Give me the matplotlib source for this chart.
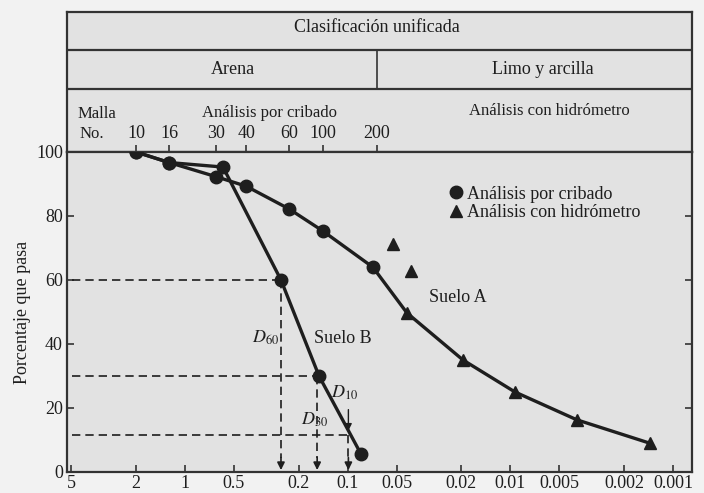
import matplotlib
matplotlib.use('Agg')
import matplotlib.pyplot as plt
from matplotlib.lines import Line2D

plt.rcParams['font.family'] = ['Liberation Serif', 'DejaVu Serif']
plt.rcParams['mathtext.fontset'] = 'stix'

# ---------------- data ----------------
sieve_numbers = ['10', '16', '30', '40', '60', '100', '200']
sieve_sizes = [2.0, 1.25, 0.645, 0.42, 0.229, 0.142, 0.066]

soilA_sieve_d = [2.0, 1.25, 0.645, 0.42, 0.229, 0.142, 0.070]
soilA_sieve_p = [100, 96.7, 92.3, 89.3, 82.2, 75.3, 64.0]
soilA_hydro_d = [0.0432, 0.01955, 0.00937, 0.0039, 0.00139]
soilA_hydro_p = [49.7, 35.0, 25.0, 16.3, 9.0]
extra_hydro_d = [0.0526, 0.0408]
extra_hydro_p = [71.3, 62.8]

soilB_d = [2.0, 1.25, 0.584, 0.257, 0.150, 0.0828]
soilB_p = [100, 96.7, 95.3, 60.0, 30.0, 5.6]

D_values = [0.257, 0.154, 0.099]
D_percent = [60, 30, 11.6]

xticks = [5, 2, 1, 0.5, 0.2, 0.1, 0.05, 0.02, 0.01, 0.005, 0.002, 0.001]
xticklabels = ['5', '2', '1', '0.5', '0.2', '0.1', '0.05', '0.02', '0.01',
               '0.005', '0.002', '0.001']
yticks = [0, 20, 40, 60, 80, 100]

# ---------------- styling ----------------
W, H = 704, 493
INK = '#1e1e1e'
PLOT_BG = '#e2e2e2'
FIG_BG = '#f2f2f2'
FS = 13
XLIM = (5.31, 0.000765)

fig = plt.figure(figsize=(W / 100, H / 100), dpi=100, facecolor=FIG_BG)

L, R = 67, 692
hax = fig.add_axes([L / W, 1 - 152 / H, (R - L) / W, (152 - 12) / H])
ax = fig.add_axes([L / W, 1 - 472 / H, (R - L) / W, (472 - 152) / H])
hax.set_zorder(1)
ax.set_zorder(3)

for a in (ax, hax):
    a.set_facecolor(PLOT_BG)
    a.set_xscale('log')
    a.set_xlim(*XLIM)
    for s in a.spines.values():
        s.set_color('#333333')
        s.set_linewidth(1.6)

# ---------------- header ----------------
hax.set_ylim(0, 1)
hax.set_xticks([])
hax.set_yticks([])
hax.minorticks_off()
hax.axhline(0.729, color='#333333', lw=1.6)
hax.axhline(0.45, color='#333333', lw=1.6)
hax.plot([sieve_sizes[-1], sieve_sizes[-1]], [0.45, 0.729], color='#333333', lw=1.2)

def hx(px):
    return (px - L) / (R - L)

hax.text(hx(377), 0.886, 'Clasificación unificada', ha='center', va='center',
         fontsize=FS, color=INK, transform=hax.transAxes)
hax.text(hx(233), 0.59, 'Arena', ha='center', va='center', fontsize=FS,
         color=INK, transform=hax.transAxes)
hax.text(hx(543), 0.59, 'Limo y arcilla', ha='center', va='center',
         fontsize=FS, color=INK, transform=hax.transAxes)
hax.text(hx(78), 0.27, 'Malla', ha='left', va='center', fontsize=FS - 1,
         color=INK, transform=hax.transAxes)
hax.text(hx(80), 0.125, 'No.', ha='left', va='center', fontsize=FS - 1,
         color=INK, transform=hax.transAxes)
hax.text(hx(270), 0.28, 'Análisis por cribado', ha='center', va='center',
         fontsize=FS - 1, color=INK, transform=hax.transAxes)
hax.text(hx(549), 0.29, 'Análisis con hidrómetro', ha='center', va='center',
         fontsize=FS - 1, color=INK, transform=hax.transAxes)

# sieve ticks on top of the main axes
sec = ax.secondary_xaxis('top')
sec.set_xticks(sieve_sizes)
sec.set_xticklabels(sieve_numbers)
sec.minorticks_off()
sec.tick_params(direction='out', length=5, width=1.2, color='#333333',
                labelsize=FS, labelcolor=INK, pad=2)
sec.spines['top'].set_visible(False)

# ---------------- main axes ----------------
ax.set_ylim(0, 100)
ax.set_xticks(xticks)
ax.set_xticklabels(xticklabels)
ax.minorticks_off()
ax.set_yticks(yticks)
ax.tick_params(axis='x', direction='in', length=5, width=1.2, color='#333333',
               labelsize=FS, labelcolor=INK, pad=2)
ax.tick_params(axis='y', direction='in', length=5, width=1.2, color='#333333',
               labelsize=FS, labelcolor=INK, pad=3, right=True, labelright=False)
ax.set_ylabel('Porcentaje que pasa', fontsize=FS, color=INK)
ax.yaxis.set_label_coords(-0.058, 0.5)

# dashed construction lines
dash = (0, (5, 3))
for d, p in zip(D_values, D_percent):
    ax.plot([XLIM[0] * 0.93, d], [p, p], ls=dash, color=INK, lw=1.2, zorder=2)
    ax.plot([d, d], [p, 4.5], ls=dash, color=INK, lw=1.2, zorder=2)
    ax.annotate('', xy=(d, 0.6), xytext=(d, 4.5),
                arrowprops=dict(arrowstyle='-|>', color=INK, lw=1.2,
                                mutation_scale=11, shrinkA=0, shrinkB=0),
                zorder=3)
# short arrow above D10
ax.annotate('', xy=(D_values[2], D_percent[2] + 1.3), xytext=(D_values[2], 19.5),
            arrowprops=dict(arrowstyle='-|>', color=INK, lw=1.0,
                            mutation_scale=10, shrinkA=0, shrinkB=0), zorder=3)

# curves
ax.plot(soilB_d, soilB_p, color=INK, lw=2.4, zorder=4)
ax.plot(soilB_d, soilB_p, ls='none', marker='o', ms=9, color=INK, zorder=5)
curveA_d = soilA_sieve_d + soilA_hydro_d
curveA_p = soilA_sieve_p + soilA_hydro_p
ax.plot(curveA_d, curveA_p, color=INK, lw=2.4, zorder=4)
ax.plot(soilA_sieve_d, soilA_sieve_p, ls='none', marker='o', ms=9, color=INK, zorder=5)
ax.plot(soilA_hydro_d, soilA_hydro_p, ls='none', marker='^', ms=9, color=INK, zorder=5)
ax.plot(extra_hydro_d, extra_hydro_p, ls='none', marker='^', ms=9, color=INK, zorder=5)

# labels
ax.text(0.317, 41.9, r'$D_{60}$', ha='center', va='center', fontsize=FS, color=INK)
ax.text(0.107, 41.6, 'Suelo B', ha='center', va='center', fontsize=FS, color=INK)
ax.text(0.160, 16.3, r'$D_{30}$', ha='center', va='center', fontsize=FS, color=INK)
ax.text(0.105, 24.7, r'$D_{10}$', ha='center', va='center', fontsize=FS, color=INK)
ax.text(0.021, 54.4, 'Suelo A', ha='center', va='center', fontsize=FS, color=INK)

# legend
handles = [Line2D([], [], ls='none', marker='o', ms=9, color=INK),
           Line2D([], [], ls='none', marker='^', ms=9, color=INK)]
leg = ax.legend(handles, ['Análisis por cribado', 'Análisis con hidrómetro'],
                loc='upper left', bbox_to_anchor=(hx(451), 0.895),
                frameon=False, fontsize=FS, handlelength=0.6, handletextpad=0.3,
                labelspacing=0.1, borderpad=0, borderaxespad=0)
for t in leg.get_texts():
    t.set_color(INK)

fig.savefig('out.png', dpi=100, facecolor=FIG_BG)
